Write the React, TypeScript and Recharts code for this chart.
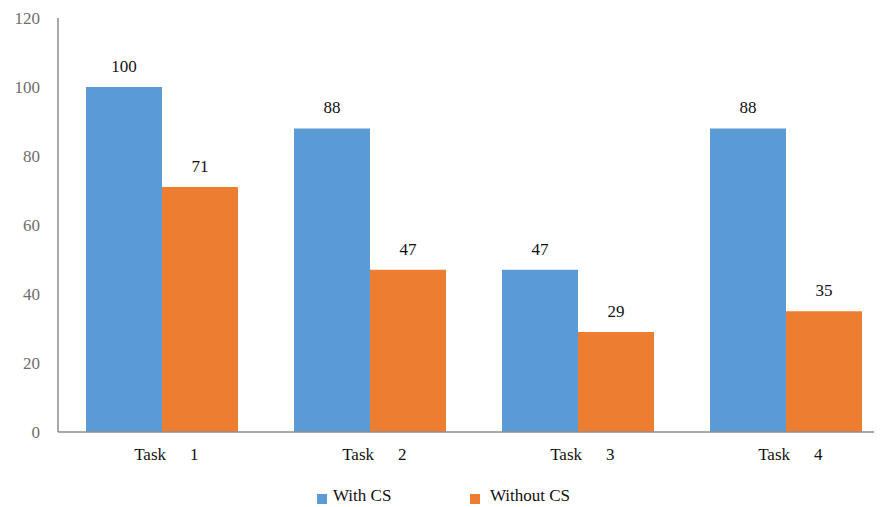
import React from "react";
import { BarChart, Bar, XAxis, YAxis, LabelList, Legend } from "recharts";

const tasks = ["Task 1", "Task 2", "Task 3", "Task 4"];
const withCS = [100, 88, 47, 88];
const withoutCS = [71, 47, 29, 35];
const yTicks = [0, 20, 40, 60, 80, 100, 120];

const data = tasks.map((name, i) => ({
  name,
  withCS: withCS[i],
  withoutCS: withoutCS[i],
}));

const FONT = "'Liberation Serif', Tinos, 'DejaVu Serif', 'Times New Roman', serif";
const BLUE = "#5B9BD5";
const ORANGE = "#ED7D31";

// "Task   1" style label: word and number spaced apart
const TaskTick = (props: any) => {
  const { x, y, payload } = props;
  const [word, num] = String(payload.value).split(" ");
  return (
    <g style={{ fontFamily: FONT }}>
      <text x={x + 4} y={y + 20} textAnchor="end" fontSize={17} fill="#111">
        {word}
      </text>
      <text x={x + 28} y={y + 20} textAnchor="start" fontSize={17} fill="#111">
        {num}
      </text>
    </g>
  );
};

const LegendBox = () => (
  <div style={{ display: "flex", fontFamily: FONT, fontSize: 17, color: "#111", height: 24, alignItems: "center", paddingLeft: 309, position: "relative", top: 3 }}>
    <div style={{ display: "flex", alignItems: "center", width: 153 }}>
      <span style={{ width: 10, height: 10, background: BLUE, display: "inline-block", marginRight: 6, marginTop: 5 }} />
      With CS
    </div>
    <div style={{ display: "flex", alignItems: "center" }}>
      <span style={{ width: 10, height: 10, background: ORANGE, display: "inline-block", marginRight: 10, marginTop: 5 }} />
      Without CS
    </div>
  </div>
);

export default function App() {
  return (
    <div style={{ width: 874, height: 499, overflow: "hidden", background: "#fff", fontFamily: FONT }}>
      <BarChart
        width={900}
        height={499}
        data={data}
        margin={{ top: 10, right: 18, left: 0, bottom: 2 }}
        barCategoryGap={28}
        barGap={0}
        style={{ fontFamily: FONT }}
      >
        <XAxis
          dataKey="name"
          axisLine={{ stroke: "#8c8c8c", strokeWidth: 1.5 }}
          tickLine={false}
          height={49}
          tick={<TaskTick />}
          interval={0}
        />
        <YAxis
          domain={[0, 120]}
          ticks={yTicks}
          width={50}
          axisLine={{ stroke: "#8c8c8c", strokeWidth: 1.5 }}
          tickLine={false}
          tickMargin={12}
          tick={{ fontSize: 17, fill: "#6e6e6e", style: { fontFamily: FONT } }}
        />
        <Legend verticalAlign="bottom" content={<LegendBox />} />
        <Bar dataKey="withCS" name="With CS" fill={BLUE} isAnimationActive={false}>
          <LabelList dataKey="withCS" position="top" offset={15} style={{ fontFamily: FONT, fontSize: 17, fill: "#111" }} />
        </Bar>
        <Bar dataKey="withoutCS" name="Without CS" fill={ORANGE} isAnimationActive={false}>
          <LabelList dataKey="withoutCS" position="top" offset={15} style={{ fontFamily: FONT, fontSize: 17, fill: "#111" }} />
        </Bar>
      </BarChart>
    </div>
  );
}
